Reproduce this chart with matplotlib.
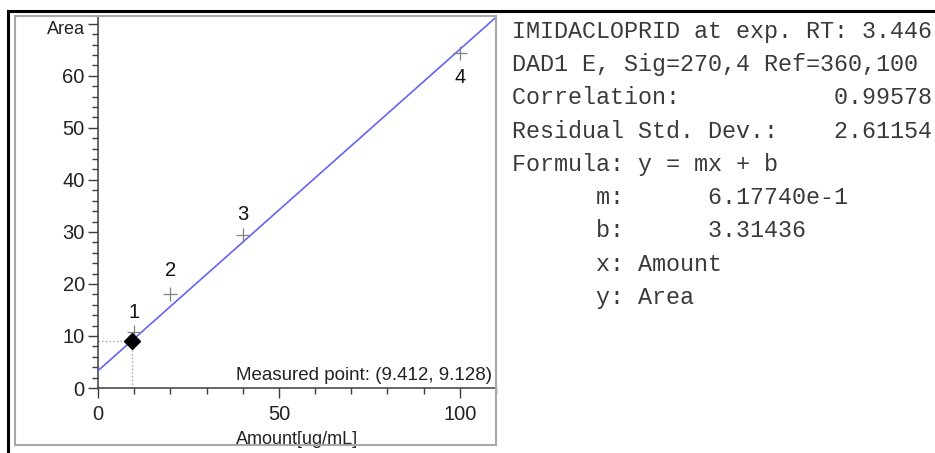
import numpy as np
import matplotlib
matplotlib.use("Agg")
from matplotlib import pyplot as plt
from matplotlib.lines import Line2D
from matplotlib.patches import Rectangle
from matplotlib.ticker import MultipleLocator

# calibration levels (amount) and the measured areas
amounts = [10, 20, 40, 100]
areas = [10.8, 18.1, 29.4, 64.4]
level_names = ["1", "2", "3", "4"]

# fitted line y = m*x + b
slope = 6.17740e-1
intercept = 3.31436

# sample point
measured_x = 9.412
measured_y = 9.128

y_tick_values = [0, 10, 20, 30, 40, 50, 60]
x_tick_values = [0, 50, 100]

info_lines = [
    "IMIDACLOPRID at exp. RT: 3.446",
    "DAD1 E, Sig=270,4 Ref=360,100",
    "Correlation:           0.99578",
    "Residual Std. Dev.:    2.61154",
    "Formula: y = mx + b",
    "      m:      6.17740e-1",
    "      b:      3.31436",
    "      x: Amount",
    "      y: Area",
]

W, H = 935, 453
fig = plt.figure(figsize=(W / 100, H / 100), dpi=100)
fig.patch.set_facecolor("white")

sans = "Liberation Sans"
axis_col = "#3c3c3c"

ax = fig.add_axes([98 / W, (H - 388) / H, 398 / W, 372 / H])
ax.set_xlim(0, 110)
ax.set_ylim(0, 71.5)

for side in ("top", "right"):
    ax.spines[side].set_visible(False)
for side in ("left", "bottom"):
    ax.spines[side].set_color(axis_col)
    ax.spines[side].set_linewidth(1.1)
    ax.spines[side].set_clip_on(False)

ax.set_xticks(x_tick_values)
ax.set_yticks(y_tick_values + [70])
ax.set_yticklabels([str(v) for v in y_tick_values] + [""])
ax.xaxis.set_minor_locator(MultipleLocator(10))
ax.yaxis.set_minor_locator(MultipleLocator(2))
ax.tick_params(which="major", length=7.5, width=1.0, color=axis_col,
               labelsize=14.5, labelcolor="#222222")
ax.tick_params(axis="y", which="major", pad=2)
ax.tick_params(axis="x", which="major", pad=4.5)
ax.tick_params(which="minor", length=4, width=1.0, color=axis_col)
for lab in ax.get_xticklabels() + ax.get_yticklabels():
    lab.set_fontfamily(sans)

# y axis title sits where the 70 label would be
ax.text(-0.033, 69.0, "Area", transform=ax.get_yaxis_transform(),
        ha="right", va="center", fontsize=13, family=sans, color="#222222")
ax.set_xlabel("Amount[ug/mL]", fontsize=13, family=sans, color="#222222",
              labelpad=5)

# regression line over the full x range
xs = np.array(ax.get_xlim())
ax.plot(xs, slope * xs + intercept, color="#6464f5", lw=1.2, zorder=3,
        clip_on=False)

# calibration points
ax.plot(amounts, areas, ls="none", marker="+", ms=10, mew=0.9,
        color="#808080", zorder=4)
offsets = [(0, 14), (0, 17), (0, 15), (0, -18)]
for x, y, name, off in zip(amounts, areas, level_names, offsets):
    ax.annotate(name, (x, y), xytext=off, textcoords="offset points",
                ha="center", va="center", fontsize=14.5, family=sans,
                color="#111111")

# measured sample with guide lines
ax.plot([0, measured_x], [measured_y, measured_y], ls=":", lw=1,
        color="#a0a0a0", zorder=2)
ax.plot([measured_x, measured_x], [0, measured_y], ls=":", lw=1,
        color="#a0a0a0", zorder=2)
ax.plot([measured_x], [measured_y], marker="D", ms=8, color="black", zorder=5)
ax.text(0.99, 0.012, f"Measured point: ({measured_x}, {measured_y})",
        transform=ax.transAxes, ha="right", va="bottom", fontsize=13.5,
        family=sans, color="#222222")

# panel border and outer frame
fig.add_artist(Rectangle((15 / W, (H - 445) / H), (496 - 15) / W, (445 - 16) / H,
                         transform=fig.transFigure, fill=False,
                         ec="#a8a8a8", lw=1.5))
fig.add_artist(Line2D([8 / W, 1], [1 - 11 / H, 1 - 11 / H],
                      transform=fig.transFigure, color="black", lw=2.2))
fig.add_artist(Line2D([8 / W, 8 / W], [0, 1 - 11 / H],
                      transform=fig.transFigure, color="black", lw=2.2))

# calibration summary text
baselines = [38, 71.5, 104.5, 138, 171, 204, 237, 271, 304]
for line, yb in zip(info_lines, baselines):
    fig.text(512 / W, 1 - yb / H, line, ha="left", va="baseline",
             fontsize=16.8, family="Liberation Mono", color="#3a3a3a")

fig.savefig("out.png", dpi=100)
